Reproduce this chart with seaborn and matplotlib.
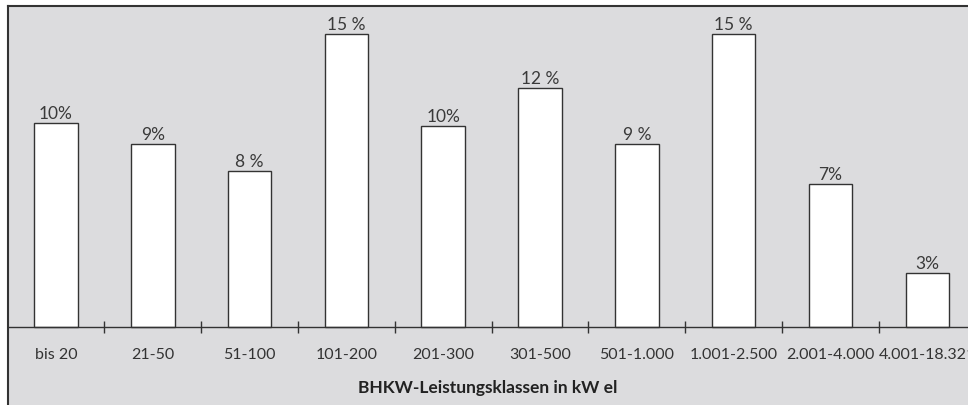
import matplotlib
matplotlib.use("Agg")
import matplotlib.pyplot as plt
import matplotlib.transforms as mtrans
import seaborn as sns
import pandas as pd

categories = ["bis 20", "21-50", "51-100", "101-200", "201-300", "301-500",
              "501-1.000", "1.001-2.500", "2.001-4.000", "4.001-18.321"]
values = [10.45, 9.37, 7.99, 15.0, 10.29, 12.24, 9.37, 15.0, 7.32, 2.76]
value_labels = ["10%", "9%", "8 %", "15 %", "10%", "12 %", "9 %", "15 %", "7%", "3%"]
xlabel = "BHKW-Leistungsklassen in kW el"

sns.set_theme(style="white")
plt.rcParams['font.family'] = ['Lato', 'DejaVu Sans']

df = pd.DataFrame({"cat": categories, "val": values})

W, H = 968, 405
fig = plt.figure(figsize=(W / 100, H / 100), dpi=100, facecolor="white")
ax = fig.add_axes([8 / W, 0, (W - 8) / W, (H - 6) / H])
ax.set_facecolor("#dcdcde")

sns.barplot(data=df, x="cat", y="val", ax=ax, color="white", width=0.45,
            edgecolor="#333333", linewidth=1.0, saturation=1)

ax.bar_label(ax.containers[0], labels=value_labels, padding=1, fontsize=12.5,
             color="#3a3a3a")

ax.set_xlim(-0.496, 9.42)
ax.set_ylim(-3.99, 16.44)

ax.spines["right"].set_visible(False)
ax.spines["left"].set_color("#333333")
ax.spines["left"].set_linewidth(1.5)
ax.spines["top"].set_color("#333333")
ax.spines["top"].set_linewidth(1.5)
ax.spines["bottom"].set_position(("data", 0))
ax.spines["bottom"].set_color("#333333")
ax.spines["bottom"].set_linewidth(1.0)

ax.set_yticks([])
ax.set_xticks([i + 0.5 for i in range(len(categories) - 1)])
ax.set_xticklabels([])
ax.set_xticks(range(len(categories)), minor=True)
ax.set_xticklabels(categories, minor=True, fontsize=11.5, color="#333333")
ax.tick_params(axis="x", which="major", direction="inout", length=9, width=1,
               color="#333333", bottom=True)
ax.tick_params(axis="x", which="minor", length=0, pad=15, bottom=True)
ax.set_xlabel("")
ax.set_ylabel("")

ax.text(0.5, -3.1, xlabel,
        transform=mtrans.blended_transform_factory(ax.transAxes, ax.transData),
        ha="center", va="center", fontsize=12.5, fontweight="bold", color="#222222")

fig.savefig("out.png", dpi=100, facecolor="white")
